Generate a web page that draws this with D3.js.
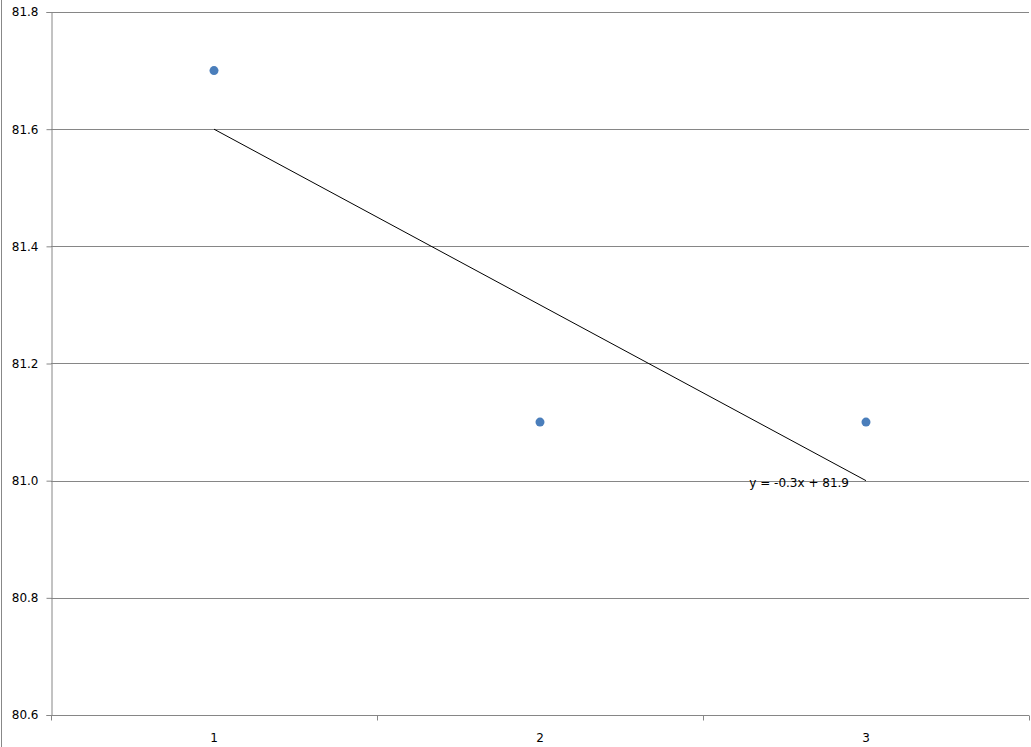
<!DOCTYPE html>
<html><head><meta charset="utf-8">
<script src="https://cdn.jsdelivr.net/npm/d3@7"></script>
<style>body{margin:0;background:#fff;}svg{display:block;}text{font-family:"DejaVu Sans",Verdana,sans-serif;}</style>
</head><body>
<script>
const categories = [1, 2, 3];
const values = [81.7, 81.1, 81.1];
const yTicks = [80.6, 80.8, 81.0, 81.2, 81.4, 81.6, 81.8];
const trendSlope = -0.3;
const trendIntercept = 81.9;
const trendLabel = "y = -0.3x + 81.9";

(function () {
const W = 1031, H = 747;
const svg = d3.select("body").append("svg").attr("width", W).attr("height", H);
const mLeft = 51, mRight = 1029, mTop = 12, mBottom = 715;

const x = d3.scaleBand().domain(categories).range([mLeft, mRight]).padding(0);
const y = d3.scaleLinear().domain([80.6, 81.8]).range([mBottom, mTop]);

// outer border line
svg.append("line").attr("x1", 1.5).attr("x2", 1.5).attr("y1", 0).attr("y2", H).attr("stroke", "#888").attr("stroke-width", 1);

// gridlines
svg.append("g").selectAll("line").data(yTicks).join("line")
  .attr("x1", mLeft).attr("x2", mRight)
  .attr("y1", d => Math.round(y(d)) + 0.5).attr("y2", d => Math.round(y(d)) + 0.5)
  .attr("stroke", "#868686").attr("stroke-width", 1);

// y axis
const yAxis = d3.axisLeft(y).tickValues(yTicks).tickFormat(d3.format(".1f")).tickSize(5).tickPadding(8);
const gy = svg.append("g").attr("transform", `translate(${mLeft + 0.5},0)`).call(yAxis);
gy.select(".domain").attr("stroke", "#868686");
gy.selectAll(".tick line").attr("stroke", "#868686");
gy.selectAll("text").attr("font-size", 12).attr("fill", "#000").attr("font-family", "DejaVu Sans, sans-serif");

// x axis: ticks at band edges
const gx = svg.append("g").attr("transform", `translate(0,${mBottom + 0.5})`);
gx.append("line").attr("x1", mLeft).attr("x2", mRight).attr("stroke", "#868686");
const edges = categories.map(c => x(c)).concat([x(categories[categories.length - 1]) + x.bandwidth()]);
gx.selectAll("line.tk").data(edges).join("line").attr("class", "tk")
  .attr("x1", d => Math.round(d) + 0.5).attr("x2", d => Math.round(d) + 0.5)
  .attr("y1", 0).attr("y2", 5).attr("stroke", "#868686");
gx.selectAll("text").data(categories).join("text")
  .attr("x", d => x(d) + x.bandwidth() / 2).attr("y", 26)
  .attr("text-anchor", "middle").attr("font-size", 12).attr("fill", "#000")
  .text(d => d);

// trendline
const cx = d => x(d) + x.bandwidth() / 2;
svg.append("line")
  .attr("x1", cx(categories[0])).attr("y1", y(trendIntercept + trendSlope * categories[0]))
  .attr("x2", cx(categories[2])).attr("y2", y(trendIntercept + trendSlope * categories[2]))
  .attr("stroke", "#000").attr("stroke-width", 1);

// points
svg.append("g").selectAll("circle").data(categories.map((c, i) => ({c, v: values[i]}))).join("circle")
  .attr("cx", d => cx(d.c)).attr("cy", d => y(d.v)).attr("r", 4.5)
  .attr("fill", "#4a7ebb");

// trend label
svg.append("text")
  .attr("x", cx(categories[2]) - 17).attr("y", y(trendIntercept + trendSlope * categories[2]) + 6)
  .attr("text-anchor", "end").attr("font-size", 12).attr("fill", "#000")
  .text(trendLabel);
})();
</script>
</body></html>
